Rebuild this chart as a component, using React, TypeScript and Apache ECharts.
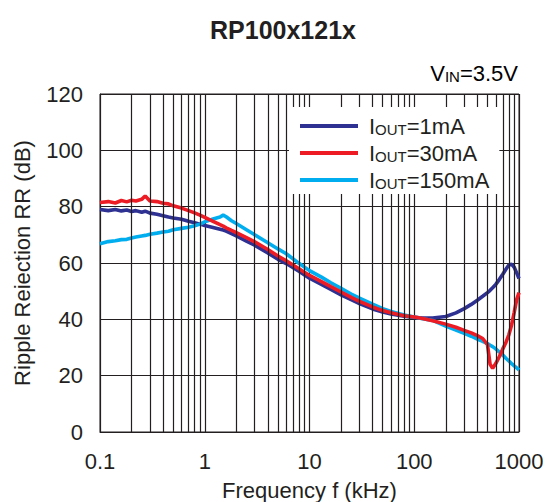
import React, { useEffect, useRef } from "react";
import * as echarts from "echarts";

// Frequency points (kHz)
const freqKHz = [
  0.1, 0.12, 0.14, 0.16, 0.18, 0.2, 0.22, 0.25, 0.27, 0.3,
  0.35, 0.4, 0.45, 0.5, 0.6, 0.7, 0.8, 0.9, 1, 1.2,
  1.4, 1.5, 1.6, 1.8, 2, 2.5, 3, 4, 5, 6,
  8, 10, 13, 16, 20, 25, 30, 40, 50, 60,
  80, 100, 120, 150, 200, 250, 300, 350, 400, 450,
  500, 530, 560, 600, 650, 700, 750, 800, 850, 900,
  950, 1000,
];

// Ripple rejection (dB), IOUT = 1mA
const rr1mA = [
  79.0, 78.6, 79.0, 78.5, 78.8, 78.3, 78.6, 78.0, 78.4, 77.7,
  77.3, 76.8, 76.3, 76.0, 75.5, 74.8, 74.3, 73.8, 73.3, 72.6,
  72.0, 71.7, 71.3, 70.4, 69.6, 67.8, 66.3, 63.6, 61.3, 59.8,
  57.0, 54.6, 52.4, 50.6, 48.7, 47.0, 45.6, 43.7, 42.6, 41.9,
  41.1, 40.7, 40.5, 40.5, 41.0, 42.3, 43.8, 45.3, 46.8, 48.2,
  49.5, 50.3, 51.2, 52.4, 54.2, 56.0, 57.8, 59.3, 59.6, 58.5,
  56.5, 54.5,
];

// Ripple rejection (dB), IOUT = 30mA
const rr30mA = [
  81.5, 81.8, 81.3, 82.2, 81.7, 82.3, 82.0, 82.6, 83.8, 82.0,
  81.8, 81.2, 81.0, 80.3, 79.5, 78.6, 77.8, 77.0, 76.2, 74.8,
  73.6, 73.1, 72.5, 71.6, 70.8, 69.0, 67.5, 64.8, 62.5, 60.8,
  57.9, 55.6, 53.4, 51.6, 49.7, 47.8, 46.4, 44.4, 43.1, 42.3,
  41.3, 40.8, 40.3, 39.5, 38.3, 37.2, 36.1, 35.2, 34.2, 33.2,
  31.0, 24.0, 22.6, 24.3, 26.8, 29.5, 31.8, 34.5, 38.0, 42.5,
  47.0, 49.5,
];

// Ripple rejection (dB), IOUT = 150mA
const rr150mA = [
  66.8, 67.6, 67.9, 68.3, 68.4, 68.9, 69.2, 69.6, 69.8, 70.2,
  70.6, 71.0, 71.3, 71.8, 72.3, 72.7, 73.2, 73.8, 74.6, 75.6,
  76.3, 77.0, 76.4, 75.0, 74.0, 71.8, 70.0, 67.2, 65.0, 63.3,
  59.8, 57.3, 55.0, 53.0, 51.0, 49.0, 47.5, 45.4, 43.8, 42.8,
  41.5, 40.8, 40.2, 39.6, 37.6, 36.2, 35.0, 34.0, 33.0, 32.2,
  31.4, 30.8, 30.3, 29.5, 28.4, 27.3, 26.2, 25.2, 24.3, 23.5,
  22.8, 22.0,
];

// Minor (2..9 per decade) vertical grid lines on the log frequency axis
const minorGridFreqs = [
  0.2, 0.3, 0.4, 0.5, 0.6, 0.7, 0.8, 0.9,
  2, 3, 4, 5, 6, 7, 8, 9,
  20, 30, 40, 50, 60, 70, 80, 90,
  200, 300, 400, 500, 600, 700, 800, 900,
];

const seriesNames = ["IOUT=1mA", "IOUT=30mA", "IOUT=150mA"];
const legendRich: Record<string, string> = {
  "IOUT=1mA": "{a|I}{b|OUT}{a|=1mA}",
  "IOUT=30mA": "{a|I}{b|OUT}{a|=30mA}",
  "IOUT=150mA": "{a|I}{b|OUT}{a|=150mA}",
};

const TXT = "#231f20";
const BLUE = "#2e3192";
const RED = "#ed1c24";
const CYAN = "#00aeef";
const FONT = "Liberation Sans, Arial, sans-serif";

const richStyles = {
  a: { fontSize: 22, lineHeight: 22, color: TXT, fontFamily: FONT },
  b: { fontSize: 15, lineHeight: 18, color: TXT, verticalAlign: "bottom", fontFamily: FONT },
};

export default function App() {
  const ref = useRef<HTMLDivElement>(null);

  useEffect(() => {
    document.body.style.margin = "0";
    if (!ref.current) return;
    const chart = echarts.init(ref.current, undefined, { renderer: "svg" });
    const pair = (vals: number[]) => freqKHz.map((f, i) => [f, vals[i]]);

    chart.setOption({
      animation: false,
      backgroundColor: "#fff",
      textStyle: { fontFamily: FONT, color: TXT },
      title: {
        text: "RP100x121x",
        left: 205,
        top: 12,
        textStyle: { fontSize: 25, fontWeight: "bold", color: TXT, fontFamily: FONT },
      },
      graphic: [
        {
          type: "text",
          x: 518,
          y: 73,
          z: 10,
          style: {
            text: "{a|V}{b|IN}{a|=3.5V}",
            rich: richStyles,
            align: "right",
            verticalAlign: "middle",
          },
        },
      ],
      legend: {
        orient: "vertical",
        left: 289,
        top: 107,
        padding: [8, 10, 3, 11],
        backgroundColor: "#fff",
        itemWidth: 58,
        itemHeight: 4,
        itemGap: 5,
        icon: "rect",
        data: seriesNames,
        formatter: (name: string) => legendRich[name] || name,
        textStyle: { padding: [0, 0, 0, 6], rich: richStyles },
        z: 6,
      },
      grid: {
        left: 100,
        top: 94,
        width: 419,
        height: 338,
        show: true,
        borderColor: TXT,
        borderWidth: 1,
        containLabel: false,
        outerBoundsMode: "none",
      },
      xAxis: {
        type: "log",
        logBase: 10,
        min: 0.1,
        max: 1000,
        name: "Frequency f (kHz)",
        nameLocation: "middle",
        nameGap: 47,
        nameTextStyle: { fontSize: 22, color: TXT },
        axisLine: { show: true, lineStyle: { color: TXT, width: 1 } },
        axisTick: { show: false },
        axisLabel: {
          fontSize: 22,
          color: TXT,
          margin: 18,
          formatter: (v: number) => String(parseFloat(Number(v).toPrecision(3))),
        },
        splitLine: { show: true, lineStyle: { color: TXT, width: 1.2 } },
      },
      yAxis: {
        type: "value",
        min: 0,
        max: 120,
        interval: 20,
        name: "Ripple Reiection RR (dB)",
        nameLocation: "middle",
        nameGap: 67,
        nameTextStyle: { fontSize: 22, color: TXT },
        axisLine: { show: true, lineStyle: { color: TXT, width: 1 } },
        axisTick: { show: false },
        axisLabel: { fontSize: 22, color: TXT, margin: 17 },
        splitLine: { show: true, lineStyle: { color: TXT, width: 1.2 } },
      },
      series: [
        {
          name: "minor-grid",
          type: "line",
          data: [],
          z: 1,
          silent: true,
          markLine: {
            silent: true,
            symbol: ["none", "none"],
            label: { show: false },
            emphasis: { disabled: true },
            lineStyle: { color: TXT, width: 1.2, type: "solid" },
            data: minorGridFreqs.map((f) => ({ xAxis: f })),
          },
        },
        {
          name: "IOUT=1mA",
          type: "line",
          data: pair(rr1mA),
          showSymbol: false,
          z: 3,
          lineStyle: { color: BLUE, width: 3.6 },
          itemStyle: { color: BLUE },
        },
        {
          name: "IOUT=150mA",
          type: "line",
          data: pair(rr150mA),
          showSymbol: false,
          z: 3,
          lineStyle: { color: CYAN, width: 3.6 },
          itemStyle: { color: CYAN },
        },
        {
          name: "IOUT=30mA",
          type: "line",
          data: pair(rr30mA),
          showSymbol: false,
          z: 3,
          lineStyle: { color: RED, width: 3.6 },
          itemStyle: { color: RED },
        },
      ],
    });

    return () => chart.dispose();
  }, []);

  return <div ref={ref} style={{ width: 555, height: 502 }} />;
}
